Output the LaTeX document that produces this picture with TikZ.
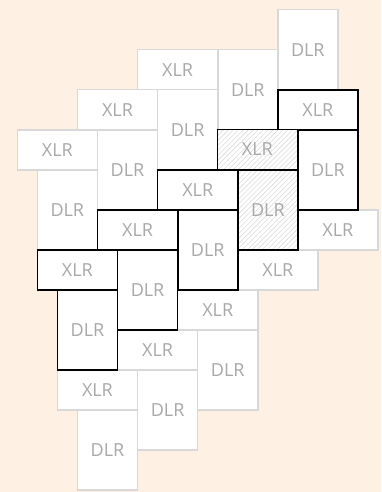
\documentclass[tikz,border=0pt]{standalone}
\usepackage{fontspec}
\setmainfont{Open Sans}
\usetikzlibrary{patterns.meta}
\definecolor{bg}{HTML}{FEF0E3}
\definecolor{lightedge}{HTML}{D8D8D8}
\definecolor{txt}{HTML}{A8A8A8}
\definecolor{hatch}{HTML}{DCDCDC}
\tikzset{
  tile/.style={anchor=north west, inner sep=0pt, fill=white, text=txt,
    font=\fontsize{18pt}{20pt}\selectfont},
  xlr/.style={tile, minimum width=80.2pt, minimum height=40pt},
  dlr/.style={tile, minimum width=60.15pt, minimum height=80pt},
  faint/.style={draw=lightedge, line width=1.5pt},
  strong/.style={draw=black, line width=1.6pt},
  hatched/.style={preaction={fill=white},
    pattern={Lines[angle=45,distance=3.5pt,line width=0.6pt]}, pattern color=hatch}
}
\begin{document}
\begin{tikzpicture}[x=1pt,y=-1pt]
\fill[bg] (0,0) rectangle (381,492);
\useasboundingbox (0,0) rectangle (381,492);
% faint tiles
\node[dlr,faint] (g1) at (277,9) {DLR};
\node[xlr,faint] (g2) at (136.8,49) {XLR};
\node[dlr,faint] (g3) at (217,49) {DLR};
\node[xlr,faint] (g4) at (76.6,89) {XLR};
\node[dlr,faint] (g5) at (156.8,89) {DLR};
\node[xlr,faint] (g6) at (16.5,129) {XLR};
\node[dlr,faint] (g7) at (96.7,129) {DLR};
\node[dlr,faint] (g8) at (36.5,169) {DLR};
\node[xlr,faint] (g9) at (297,209) {XLR};
\node[xlr,faint] (g10) at (237,249) {XLR};
\node[xlr,faint] (g11) at (176.9,289) {XLR};
\node[xlr,faint] (g12) at (116.7,329) {XLR};
\node[dlr,faint] (g13) at (196.9,329) {DLR};
\node[xlr,faint] (g14) at (56.6,369) {XLR};
\node[dlr,faint] (g15) at (136.8,369) {DLR};
\node[dlr,faint] (g16) at (76.6,409) {DLR};
% strong tiles
\node[xlr,strong] (b1) at (277,89) {XLR};
\node[xlr,strong,hatched] (b2) at (217,129) {XLR};
\node[dlr,strong] (b3) at (297,129) {DLR};
\node[xlr,strong] (b4) at (156.8,169) {XLR};
\node[dlr,strong,hatched] (b5) at (237,169) {DLR};
\node[xlr,strong] (b6) at (96.7,209) {XLR};
\node[dlr,strong] (b7) at (176.9,209) {DLR};
\node[xlr,strong] (b8) at (36.5,249) {XLR};
\node[dlr,strong] (b9) at (116.7,249) {DLR};
\node[dlr,strong] (b10) at (56.6,289) {DLR};
\end{tikzpicture}
\end{document}
